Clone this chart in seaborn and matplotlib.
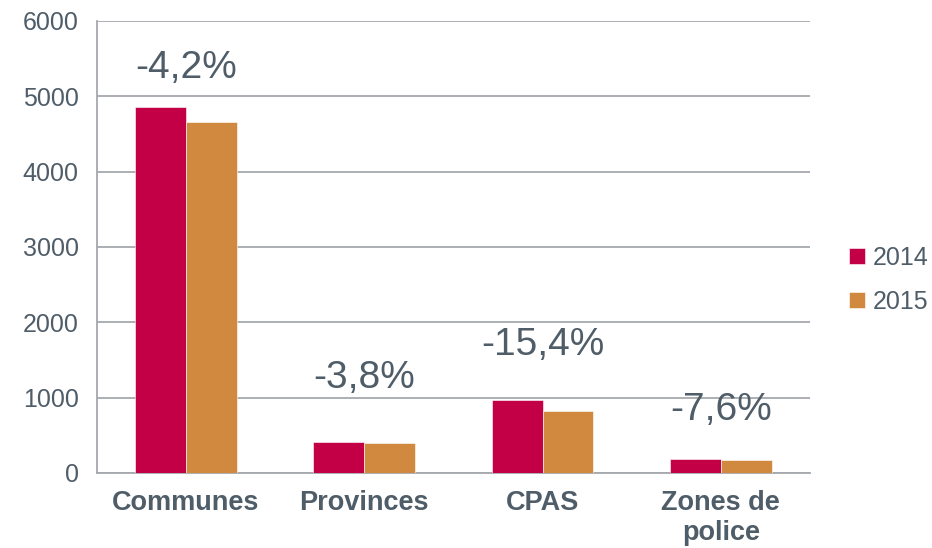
import pandas as pd
import numpy as np
import matplotlib.pyplot as plt
import seaborn as sns

# ==========================================
# DATA
# ==========================================
categories = ["Communes", "Provinces", "CPAS", "Zones de\npolice"]
years = ["2014", "2015"]
values_2014 = [4858, 411, 968, 182]
values_2015 = [4651, 394, 820, 168]
change_labels = ["-4,2%", "-3,8%", "-15,4%", "-7,6%"]

# label heights (data units) for the change callouts
label_y = [5370, 1260, 1700, 840]

# ==========================================
# STYLE
# ==========================================
RED = "#C30045"
ORANGE = "#D0893F"
TEXT = "#4F5D69"
GRID = "#A5A8AC"

sns.set_style("white")
plt.rcParams["font.family"] = ["Liberation Sans", "DejaVu Sans"]
plt.rcParams["text.color"] = TEXT
plt.rcParams["xtick.color"] = GRID
plt.rcParams["ytick.color"] = GRID

df = pd.DataFrame({
    "category": categories * 2,
    "year": [years[0]] * 4 + [years[1]] * 4,
    "value": values_2014 + values_2015,
})

fig, ax = plt.subplots(figsize=(9.32, 5.48), dpi=100)
fig.subplots_adjust(left=0.104, right=0.869, top=0.962, bottom=0.137)

sns.barplot(data=df, x="category", y="value", hue="year",
            palette=[RED, ORANGE], width=0.57, gap=0, ax=ax,
            saturation=1, errorbar=None, zorder=3)

for p in ax.patches:
    p.set_edgecolor("white")
    p.set_linewidth(0.4)

ax.set_ylim(0, 6000)
ax.set_xlim(-0.5, 3.5)
ax.set_yticks(np.arange(0, 6001, 1000))
ax.yaxis.grid(True, color=GRID, linewidth=1.3, zorder=0)
ax.set_axisbelow(True)

for side in ["top", "right"]:
    ax.spines[side].set_visible(False)
for side in ["left", "bottom"]:
    ax.spines[side].set_color(GRID)
    ax.spines[side].set_linewidth(1.3)

ax.tick_params(axis="y", direction="out", length=7, width=1.3,
               labelsize=18, labelcolor=TEXT, pad=6)
ax.tick_params(axis="x", which="major", length=0, labelsize=19.5,
               labelcolor=TEXT, pad=12)
ax.set_xticks(np.arange(-0.5, 3.6, 1.0), minor=True)
ax.tick_params(axis="x", which="minor", direction="out", length=7, width=1.3)
for lbl in ax.get_xticklabels():
    lbl.set_fontweight("bold")
    lbl.set_linespacing(1.2)
    lbl.set_verticalalignment("top")

ax.set_xlabel("")
ax.set_ylabel("")

for i, txt in enumerate(change_labels):
    ax.text(i, label_y[i], txt, ha="center", va="center",
            fontsize=28, color=TEXT)

handles, labels = ax.get_legend_handles_labels()
ax.legend(handles, labels, loc="center left", bbox_to_anchor=(1.055, 0.427),
          frameon=False, fontsize=18, handlelength=0.65, handleheight=0.65,
          handletextpad=0.3, labelspacing=0.8, labelcolor=TEXT,
          borderpad=0, borderaxespad=0)

plt.savefig("out.png", dpi=100)
plt.close()
